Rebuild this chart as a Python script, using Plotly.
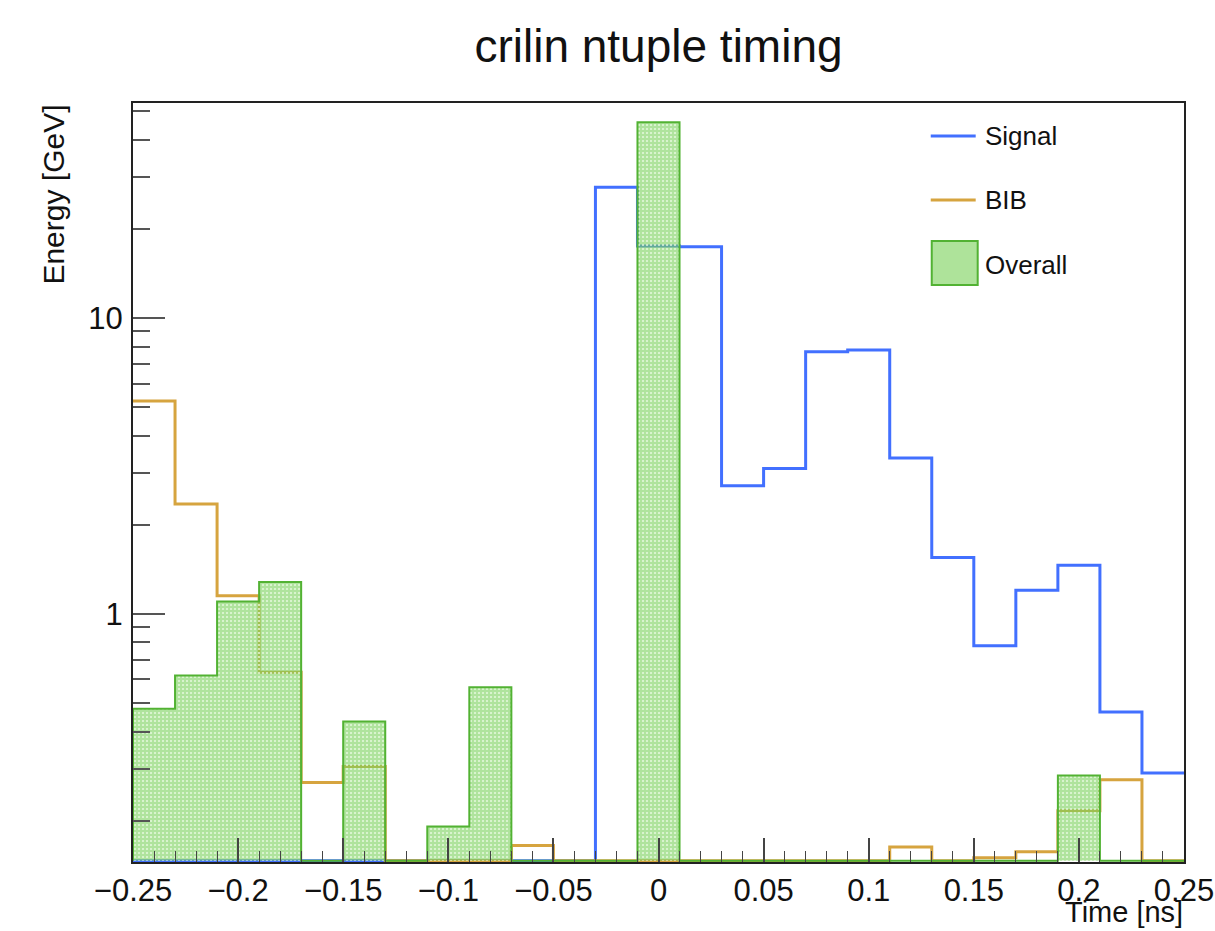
import numpy as np
import plotly.graph_objects as go

# Histogram binning: 25 bins of 0.02 ns between -0.25 and 0.25
bin_edges = [round(-0.25 + 0.02 * i, 2) for i in range(26)]

# Energy per time bin [GeV]
signal = [0, 0, 0, 0, 0, 0, 0, 0, 0, 0, 0,
          27.6, 17.5, 17.4, 2.71, 3.10, 7.68, 7.79, 3.36, 1.55,
          0.78, 1.20, 1.46, 0.466, 0.290]
bib = [5.24, 2.35, 1.15, 0.634, 0.269, 0.305, 0, 0, 0, 0.165, 0,
       0, 0, 0, 0, 0, 0, 0, 0.163, 0,
       0.150, 0.157, 0.216, 0.275, 0]
overall = [0.478, 0.619, 1.10, 1.28, 0, 0.433, 0, 0.191, 0.565, 0, 0,
           0, 45.8, 0, 0, 0, 0, 0, 0, 0,
           0, 0, 0.284, 0, 0]

x_ticks = [-0.25, -0.2, -0.15, -0.1, -0.05, 0, 0.05, 0.1, 0.15, 0.2, 0.25]
x_ticktext = ["\u22120.25", "\u22120.2", "\u22120.15", "\u22120.1", "\u22120.05",
              "0", "0.05", "0.1", "0.15", "0.2", "0.25"]
y_ticks = [1, 10]
y_ticktext = ["1", "10"]

Y_MIN, Y_MAX = 0.145, 53.2
FLOOR = 0.1465  # empty bins are drawn along the bottom of the frame

FONT = "Liberation Sans, Arial, Helvetica, sans-serif"
BLUE = "#4270ff"
ORANGE = "#d6a43f"
GREEN_LINE = "#52b233"
GREEN_FILL = "rgba(122, 208, 92, 0.6)"
GREEN_LEGEND = "#aee39a"


def step_y(values):
    clipped = [max(v, FLOOR) for v in values]
    return clipped + [clipped[-1]]


fig = go.Figure()

fig.add_trace(go.Scatter(
    x=bin_edges, y=step_y(signal), mode="lines", line_shape="hv",
    line=dict(color=BLUE, width=3), name="Signal"))
fig.add_trace(go.Scatter(
    x=bin_edges, y=step_y(bib), mode="lines", line_shape="hv",
    line=dict(color=ORANGE, width=3), name="BIB"))

# Filled histogram: closed step contour down to the bottom of the frame
fill_x = [bin_edges[0]] + bin_edges + [bin_edges[-1]]
fill_y = [FLOOR] + step_y(overall) + [FLOOR]
fig.add_trace(go.Scatter(
    x=fill_x, y=fill_y, mode="lines", line_shape="hv",
    line=dict(color=GREEN_LINE, width=2), name="Overall",
    fill="toself", fillcolor=GREEN_FILL,
    fillpattern=dict(shape=".", bgcolor=GREEN_FILL,
                     fgcolor="rgba(235, 250, 228, 0.85)",
                     size=4, solidity=0.22, fillmode="replace")))

# Legend drawn in paper coordinates
W, H = 1215, 931
L, R, T, B = 132.5, 30.5, 103, 69
pw, ph = W - L - R, H - T - B


def px(xp):
    return (xp - L) / pw


def py(yp):
    return (H - B - yp) / ph


shapes = [
    dict(type="line", xref="paper", yref="paper", x0=px(931), x1=px(976),
         y0=py(136), y1=py(136), line=dict(color=BLUE, width=3)),
    dict(type="line", xref="paper", yref="paper", x0=px(931), x1=px(976),
         y0=py(200), y1=py(200), line=dict(color=ORANGE, width=3)),
    dict(type="rect", xref="paper", yref="paper", x0=px(932), x1=px(978),
         y0=py(285), y1=py(241), fillcolor=GREEN_LEGEND,
         line=dict(color=GREEN_LINE, width=2)),
]

annotations = [
    dict(text="Signal", x=px(983), y=py(136)),
    dict(text="BIB", x=px(983), y=py(200)),
    dict(text="Overall", x=px(983), y=py(265)),
]
annotations = [dict(a, xref="paper", yref="paper", xanchor="left",
                    yanchor="middle", showarrow=False,
                    font=dict(family=FONT, size=26, color="#111"))
               for a in annotations]

# Axis titles placed at the axis ends
annotations.append(dict(
    text="Energy [GeV]", xref="paper", yref="paper", x=px(52), y=1.0,
    xanchor="center", yanchor="top", textangle=-90, showarrow=False,
    font=dict(family=FONT, size=30, color="#111")))
annotations.append(dict(
    text="Time [ns]", xref="paper", yref="paper", x=1.0, y=py(912),
    xanchor="right", yanchor="middle", showarrow=False, borderpad=0,
    font=dict(family=FONT, size=29, color="#111")))

y_minor = [0.2, 0.3, 0.4, 0.5, 0.6, 0.7, 0.8, 0.9,
           2, 3, 4, 5, 6, 7, 8, 9, 20, 30, 40, 50]
x_minor = [round(-0.25 + 0.01 * i, 2) for i in range(51)]

fig.update_layout(
    width=W, height=H,
    margin=dict(l=L, r=R, t=T, b=B, pad=0, autoexpand=False),
    paper_bgcolor="white", plot_bgcolor="white",
    showlegend=False,
    font=dict(family=FONT, color="#111"),
    title=dict(text="crilin ntuple timing", x=0.5, xref="paper",
               xanchor="center", y=1 - 46 / H, yanchor="middle",
               font=dict(family=FONT, size=46, color="#111")),
    shapes=shapes, annotations=annotations,
    xaxis=dict(
        range=[-0.25, 0.25], tickmode="array", tickvals=x_ticks,
        ticktext=x_ticktext, ticks="inside", ticklen=24, tickwidth=1.5,
        tickcolor="#444", showgrid=False, zeroline=False,
        showline=True, mirror=True, linecolor="#222", linewidth=2,
        tickfont=dict(family=FONT, size=31, color="#111"),
        ticklabelstandoff=0, automargin=False,
        minor=dict(tickvals=x_minor, ticks="inside", ticklen=11,
                   tickwidth=1.2, tickcolor="#444", showgrid=False),
    ),
    yaxis=dict(
        type="log", range=[np.log10(Y_MIN), np.log10(Y_MAX)],
        tickmode="array", tickvals=y_ticks, ticktext=y_ticktext,
        ticks="inside", ticklen=32, tickwidth=1.5, tickcolor="#555",
        showgrid=False, zeroline=False,
        showline=True, mirror=True, linecolor="#222", linewidth=2,
        tickfont=dict(family=FONT, size=31, color="#111"),
        ticklabelstandoff=2, automargin=False,
        minor=dict(tickvals=y_minor, ticks="inside", ticklen=17,
                   tickwidth=1.5, tickcolor="#555", showgrid=False),
    ),
)

fig.write_html("out.html")
